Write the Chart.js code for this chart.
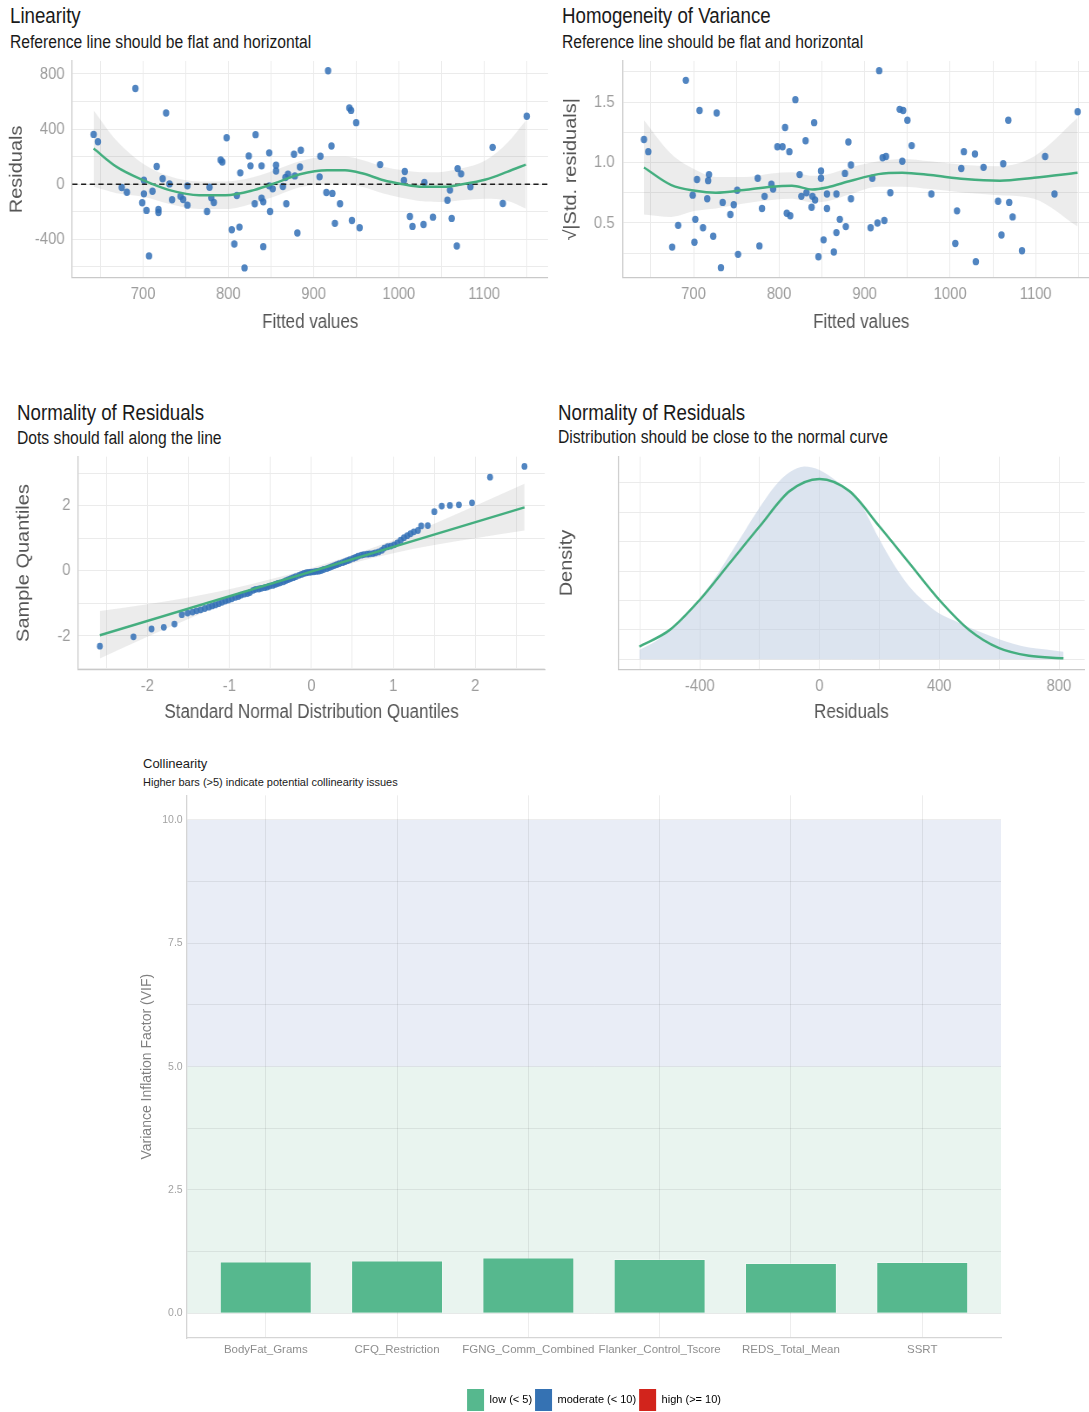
<!DOCTYPE html>
<html>
<head>
<meta charset="utf-8">
<script src="https://cdn.jsdelivr.net/npm/chart.js@4.4.1/dist/chart.umd.min.js"></script>
<style>
    body { margin: 0; width: 1089px; height: 1412px; overflow: hidden; background: #fff; position: relative; }
    canvas { position: absolute; }
    canvas.squeeze { transform: scaleX(0.87); transform-origin: 0 0; }
    .txt { position: absolute; white-space: nowrap; color: #1a1a1a; font-family: "Liberation Sans", Arial, sans-serif; }
    .sq { transform: scaleX(0.87); transform-origin: 0 0; }
</style>
</head>
<body>
<div class="txt sq" style="left:10px; top:5.8px; font-size:21.5px; line-height:21.5px;">Linearity</div>
<div class="txt sq" style="left:10px; top:32.5px; font-size:18px; line-height:18px;">Reference line should be flat and horizontal</div>
<div class="txt sq" style="left:562px; top:5.8px; font-size:21.5px; line-height:21.5px;">Homogeneity of Variance</div>
<div class="txt sq" style="left:562px; top:32.8px; font-size:18px; line-height:18px;">Reference line should be flat and horizontal</div>
<div class="txt sq" style="left:17px; top:402.8px; font-size:21.5px; line-height:21.5px;">Normality of Residuals</div>
<div class="txt sq" style="left:17px; top:428.8px; font-size:18px; line-height:18px;">Dots should fall along the line</div>
<div class="txt sq" style="left:558px; top:402.8px; font-size:21.5px; line-height:21.5px;">Normality of Residuals</div>
<div class="txt sq" style="left:558px; top:427.8px; font-size:18px; line-height:18px;">Distribution should be close to the normal curve</div>
<div class="txt" style="left:143px; top:757px; font-size:13px; line-height:13px;">Collinearity</div>
<div class="txt" style="left:143px; top:776.5px; font-size:11px; line-height:11px;">Higher bars (&gt;5) indicate potential collinearity issues</div>

<canvas id="linearity" class="squeeze" width="632" height="290" style="left:0; top:55px;"></canvas>
<canvas id="homogeneity" class="squeeze" width="644" height="290" style="left:550px; top:55px;"></canvas>
<canvas id="qq" class="squeeze" width="632" height="290" style="left:0; top:450px;"></canvas>
<canvas id="density" class="squeeze" width="644" height="290" style="left:550px; top:450px;"></canvas>
<canvas id="collinearity" width="912" height="631" style="left:139px; top:790px;"></canvas>

<script>
// Linearity: fitted values vs residuals
const linFitted = [642, 647, 691, 727, 675, 681, 701, 701, 699, 704, 711, 716, 718, 718, 707, 723, 731, 734, 744, 747, 752, 752, 775, 778, 780, 783, 798, 791, 793, 810, 804, 807, 813, 814, 819, 824, 826, 831, 832, 839, 839, 841, 841, 848, 849, 848, 852, 856, 856, 864, 868, 867, 870, 877, 878, 885, 884, 881, 908, 907, 917, 921, 915, 922, 931, 925, 942, 944, 950, 945, 954, 978, 1007, 1006, 1013, 1016, 1029, 1030, 1040, 1057, 1060, 1062, 1068, 1069, 1073, 1084, 1110, 1122, 1150];
const linResiduals = [361, 308, 694, 516, -24, -58, 29, -70, -135, -190, -51, 128, -183, -205, -520, 39, 2, -113, -87, -111, -12, -152, -198, -22, -99, -133, 337, 176, 161, -82, -330, -434, -311, 82, -607, 205, 133, -142, 359, 133, -101, -128, -453, -12, -198, 227, -34, 137, 96, -17, -142, 48, 72, 217, 60, 246, 125, -354, 202, 53, 822, 277, -60, -67, -142, -284, 552, 535, 446, -263, -316, 142, 92, 27, -234, -306, -292, 12, -239, -116, -43, -248, -448, 113, 75, -19, 267, -140, 492];
const linSmoothX = [642, 669, 700, 731, 766, 797, 830, 859, 884, 916, 937, 958, 982, 1003, 1028, 1053, 1073, 1102, 1127, 1149];
const linSmoothY = [258, 125, 29, -43, -80, -80, -43, 17, 72, 101, 101, 77, 29, 2, -19, -19, -2, 34, 89, 142];
const linBandHigh = [535, 315, 149, 57, 20, 20, 52, 112, 167, 198, 198, 174, 126, 102, 86, 91, 113, 174, 299, 462];
const linBandLow = [-19, -65, -91, -143, -180, -180, -138, -78, -23, 4, 4, -20, -68, -98, -124, -129, -117, -106, -121, -178];

// Homogeneity of variance: fitted values vs sqrt(|std. residuals|)
const hvFitted = [642, 647, 691, 675, 682, 699, 702, 701, 704, 707, 711, 716, 718, 717, 723, 727, 732, 734, 743, 747, 751, 752, 775, 777, 780, 783, 791, 793, 798, 804, 807, 809, 813, 812, 819, 824, 826, 831, 832, 838, 839, 842, 841, 846, 849, 849, 852, 856, 856, 864, 867, 867, 871, 877, 878, 881, 884, 884, 907, 909, 915, 917, 923, 921, 925, 930, 941, 945, 944, 950, 955, 978, 1006, 1008, 1013, 1016, 1029, 1030, 1039, 1056, 1060, 1062, 1068, 1069, 1073, 1084, 1111, 1122, 1149];
const hvSqrtResid = [1.19, 1.09, 1.68, 0.30, 0.48, 0.73, 0.53, 0.34, 0.86, 1.43, 0.46, 0.70, 0.90, 0.85, 0.39, 1.41, 0.13, 0.67, 0.57, 0.65, 0.77, 0.24, 0.87, 0.31, 0.62, 0.72, 0.82, 0.78, 1.13, 1.13, 1.29, 0.58, 0.56, 1.09, 1.52, 0.90, 0.72, 1.18, 0.75, 0.63, 0.72, 0.69, 1.33, 0.22, 0.93, 0.87, 0.36, 0.74, 0.62, 0.26, 0.42, 0.74, 0.53, 0.91, 0.47, 1.17, 0.98, 0.70, 0.46, 0.87, 0.50, 1.76, 0.52, 1.04, 1.05, 0.75, 1.44, 1.43, 1.01, 1.35, 1.14, 0.74, 0.33, 0.60, 0.95, 1.09, 1.07, 0.18, 0.96, 0.68, 0.40, 0.99, 1.35, 0.67, 0.55, 0.27, 1.05, 0.74, 1.42];
const hvSmoothX = [642, 674, 702, 726, 759, 791, 815, 839, 856, 884, 916, 944, 977, 1017, 1058, 1098, 1149];
const hvSmoothY = [0.959, 0.813, 0.766, 0.750, 0.772, 0.800, 0.808, 0.777, 0.794, 0.849, 0.904, 0.915, 0.896, 0.863, 0.849, 0.874, 0.915];
const hvBandHigh = [1.35, 1.07, 0.94, 0.88, 0.88, 0.91, 0.92, 0.89, 0.90, 0.96, 1.01, 1.03, 1.01, 0.98, 0.97, 1.05, 1.37];
const hvBandLow = [0.57, 0.55, 0.60, 0.62, 0.66, 0.69, 0.70, 0.67, 0.68, 0.74, 0.80, 0.80, 0.78, 0.75, 0.73, 0.70, 0.47];

// Normality: QQ plot
const qqTheoretical = [-2.58, -2.17, -1.95, -1.80, -1.67, -1.58, -1.51, -1.45, -1.40, -1.35, -1.30, -1.25, -1.21, -1.17, -1.13, -1.09, -1.05, -1.01, -0.97, -0.93, -0.89, -0.86, -0.82, -0.78, -0.75, -0.71, -0.68, -0.64, -0.61, -0.57, -0.54, -0.51, -0.47, -0.44, -0.41, -0.38, -0.34, -0.31, -0.28, -0.25, -0.22, -0.19, -0.15, -0.12, -0.09, -0.06, -0.03, 0.00, 0.03, 0.06, 0.09, 0.12, 0.15, 0.19, 0.22, 0.25, 0.28, 0.31, 0.34, 0.38, 0.41, 0.44, 0.47, 0.51, 0.54, 0.57, 0.61, 0.64, 0.68, 0.71, 0.75, 0.78, 0.82, 0.86, 0.89, 0.93, 0.97, 1.01, 1.05, 1.09, 1.13, 1.17, 1.21, 1.25, 1.30, 1.34, 1.42, 1.50, 1.59, 1.69, 1.80, 1.96, 2.18, 2.60];
const qqSample = [-2.32, -2.03, -1.79, -1.74, -1.64, -1.35, -1.30, -1.27, -1.23, -1.20, -1.16, -1.12, -1.08, -1.05, -1.01, -0.97, -0.93, -0.90, -0.86, -0.82, -0.79, -0.75, -0.72, -0.70, -0.67, -0.60, -0.57, -0.56, -0.54, -0.52, -0.50, -0.47, -0.45, -0.42, -0.39, -0.37, -0.34, -0.30, -0.27, -0.24, -0.21, -0.18, -0.14, -0.11, -0.08, -0.06, -0.05, -0.04, -0.03, -0.02, -0.01, 0.01, 0.04, 0.07, 0.10, 0.13, 0.16, 0.19, 0.22, 0.25, 0.28, 0.31, 0.34, 0.38, 0.41, 0.45, 0.48, 0.50, 0.51, 0.52, 0.53, 0.55, 0.58, 0.63, 0.70, 0.74, 0.76, 0.80, 0.86, 0.94, 1.02, 1.08, 1.14, 1.20, 1.24, 1.38, 1.39, 1.82, 1.99, 2.01, 2.03, 2.09, 2.88, 3.21];
const qqLineX = [-2.58, 2.60];
const qqLineY = [-1.98, 1.95];
const qqBandX = [-2.58, -2.0, -1.5, -1.0, 0, 1.0, 1.5, 2.0, 2.60];
const qqBandHigh = [-1.24, -1.03, -0.82, -0.57, 0.085, 0.94, 1.45, 2.00, 2.68];
const qqBandLow = [-2.70, -2.03, -1.48, -0.97, -0.115, 0.54, 0.79, 1.00, 1.24];

// Normality: density of residuals vs normal curve
const densityX = [-602, -550, -500, -450, -400, -350, -300, -250, -200, -150, -100, -50, 0, 50, 100, 136, 150, 200, 250, 300, 350, 400, 450, 500, 550, 600, 650, 700, 750, 815];
const densityY = [0.00008, 0.00015, 0.00025, 0.00038, 0.00052, 0.00069, 0.00089, 0.00109, 0.00129, 0.00147, 0.00159, 0.00164, 0.00161, 0.00153, 0.00143, 0.00133, 0.00127, 0.00102, 0.00080, 0.00062, 0.00049, 0.00039, 0.00033, 0.00027, 0.00022, 0.00017, 0.00013, 0.00010, 0.000085, 0.000065];
const normalX = [-602, -500, -400, -300, -200, -100, 0, 100, 200, 300, 400, 500, 600, 700, 815];
const normalY = [0.000108, 0.00025, 0.000506, 0.000818, 0.00113, 0.00143, 0.001534, 0.00143, 0.00113, 0.000818, 0.000506, 0.00025, 0.000095, 0.00003, 0.0000085];

// Collinearity
const vifTerms = ['BodyFat_Grams', 'CFQ_Restriction', 'FGNG_Comm_Combined', 'Flanker_Control_Tscore', 'REDS_Total_Mean', 'SSRT'];
const vifValues = [1.05, 1.07, 1.13, 1.10, 1.02, 1.04];
const vifLevels = ['low (< 5)', 'moderate (< 10)', 'high (>= 10)'];

const REGULAR = '"Liberation Sans", Arial, sans-serif';
const GRID = '#ebebeb';
const AXIS_LINE = '#c9c9c9';
const TICK_COLOR = '#9c9c9c';
const TITLE_COLOR = '#555555';
const POINT_BLUE = 'rgba(50,112,182,0.85)';
const SMOOTH_GREEN = '#44ae7f';
const BAND_GRAY = 'rgba(150,150,150,0.18)';
const VIF_COLORS = ['#56b88e', '#3572b3', '#d2241c'];

Chart.defaults.font.family = REGULAR;

function xy(xs, ys) {
    return xs.map((x, i) => ({ x: x, y: ys[i] }));
}

function every(step, digits) {
    return function (value) {
        const r = value / step;
        return Math.abs(r - Math.round(r)) < 1e-6 ? value.toFixed(digits) : '';
    };
}

// ticks at every multiple of step inside [min, max]
function stepTicks(min, max, step) {
    return function (scale) {
        const ticks = [];
        for (let k = Math.ceil(min / step - 1e-9); k * step <= max + 1e-9; k++) {
            ticks.push({ value: Math.round(k * step * 1e6) / 1e6 });
        }
        scale.ticks = ticks;
    };
}

function linearAxis(cfg) {
    const horizontal = cfg.position === 'bottom';
    return {
        type: 'linear',
        position: cfg.position,
        min: cfg.min,
        max: cfg.max,
        afterBuildTicks: stepTicks(cfg.min, cfg.max, cfg.step),
        afterFit: function (scale) {
            if (horizontal) scale.height = cfg.size; else scale.width = cfg.size;
            scale.paddingTop = 0; scale.paddingBottom = 0; scale.paddingLeft = 0; scale.paddingRight = 0;
        },
        grid: { color: GRID, lineWidth: 1, drawTicks: false },
        border: { display: true, color: AXIS_LINE, width: 1.3 },
        ticks: {
            autoSkip: false,
            maxRotation: 0,
            padding: cfg.tickPad,
            color: TICK_COLOR,
            font: { family: REGULAR, size: 17 },
            callback: cfg.label
        },
        title: {
            display: true,
            text: cfg.title,
            color: TITLE_COLOR,
            font: { family: REGULAR, size: horizontal ? 19.5 : 20 },
            padding: horizontal ? { top: 0, bottom: cfg.titlePad } : { top: cfg.titlePad, bottom: 0 }
        }
    };
}

function baseOptions(padding, xAxis, yAxis) {
    return {
        responsive: false,
        animation: false,
        devicePixelRatio: 1,
        layout: { padding: padding, autoPadding: false },
        plugins: { legend: { display: false }, tooltip: { enabled: false } },
        scales: { x: xAxis, y: yAxis }
    };
}

function smoothLine(data, color, width, order) {
    return { type: 'line', data: data, borderColor: color, borderWidth: width, pointRadius: 0,
        tension: 0.4, cubicInterpolationMode: 'monotone', fill: false, order: order };
}

function bandLines(xs, high, low, order) {
    return [
        { type: 'line', data: xy(xs, high), borderWidth: 0, borderColor: 'transparent', pointRadius: 0,
            tension: 0.4, cubicInterpolationMode: 'monotone', fill: '+1', backgroundColor: BAND_GRAY, order: order },
        { type: 'line', data: xy(xs, low), borderWidth: 0, borderColor: 'transparent', pointRadius: 0,
            tension: 0.4, cubicInterpolationMode: 'monotone', fill: false, order: order + 1 }
    ];
}

// Linearity
const LIN_X = [617, 1175];
new Chart(document.getElementById('linearity'), {
    type: 'scatter',
    data: {
        datasets: [
            smoothLine(xy(linSmoothX, linSmoothY), SMOOTH_GREEN, 2.5, 0),
            { type: 'line', data: xy(LIN_X, [0, 0]), borderColor: '#1e1e1e', borderWidth: 1.5, borderDash: [6, 4], pointRadius: 0, order: 1 },
            { data: xy(linFitted, linResiduals), backgroundColor: POINT_BLUE, borderWidth: 0, pointRadius: 3.7, order: 2 }
        ].concat(bandLines(linSmoothX, linBandHigh, linBandLow, 3))
    },
    options: baseOptions({ top: 6, right: 2.1, left: 0, bottom: 0 },
        linearAxis({ position: 'bottom', min: LIN_X[0], max: LIN_X[1], step: 50, label: every(100, 0), size: 67.3, tickPad: 6, title: 'Fitted values', titlePad: 10.7 }),
        linearAxis({ position: 'left', min: -678, max: 893, step: 200, label: every(400, 0), size: 83.1, tickPad: 9, title: 'Residuals', titlePad: 7.5 }))
});

// Homogeneity of variance
new Chart(document.getElementById('homogeneity'), {
    type: 'scatter',
    data: {
        datasets: [
            smoothLine(xy(hvSmoothX, hvSmoothY), SMOOTH_GREEN, 2.5, 0),
            { data: xy(hvFitted, hvSqrtResid), backgroundColor: POINT_BLUE, borderWidth: 0, pointRadius: 3.7, order: 2 }
        ].concat(bandLines(hvSmoothX, hvBandHigh, hvBandLow, 3))
    },
    options: baseOptions({ top: 6, right: 12, left: 0, bottom: 0 },
        linearAxis({ position: 'bottom', min: 617, max: 1175, step: 50, label: every(100, 0), size: 67.3, tickPad: 6, title: 'Fitted values', titlePad: 10.7 }),
        linearAxis({ position: 'left', min: 0.047, max: 1.84, step: 0.25, label: every(0.5, 1), size: 83.4, tickPad: 9.2, title: '\u221A|Std. residuals|', titlePad: 12.8 }))
});

// QQ plot
new Chart(document.getElementById('qq'), {
    type: 'scatter',
    data: {
        datasets: [
            { type: 'line', data: xy(qqLineX, qqLineY), borderColor: SMOOTH_GREEN, borderWidth: 2.5, pointRadius: 0, fill: false, order: 0 },
            { data: xy(qqTheoretical, qqSample), backgroundColor: POINT_BLUE, borderWidth: 0, pointRadius: 3.4, order: 2 }
        ].concat(bandLines(qqBandX, qqBandHigh, qqBandLow, 3))
    },
    options: baseOptions({ top: 6.7, right: 5.8, left: 0, bottom: 0 },
        linearAxis({ position: 'bottom', min: -2.843, max: 2.848, step: 0.5, label: every(1, 0), size: 70.7, tickPad: 7.2, title: 'Standard Normal Distribution Quantiles', titlePad: 15.7 }),
        linearAxis({ position: 'left', min: -3.03, max: 3.51, step: 1, label: every(2, 0), size: 90, tickPad: 9, title: 'Sample Quantiles', titlePad: 15.4 }))
});

// Density
new Chart(document.getElementById('density'), {
    type: 'scatter',
    data: {
        datasets: [
            smoothLine(xy(normalX, normalY), SMOOTH_GREEN, 2.5, 0),
            { type: 'line', data: xy(densityX, densityY), borderWidth: 0, borderColor: 'transparent', pointRadius: 0,
                tension: 0.4, cubicInterpolationMode: 'monotone', fill: 'origin', backgroundColor: 'rgba(186,202,224,0.5)', order: 1 }
        ]
    },
    options: baseOptions({ top: 6.7, right: 29.4, left: 0, bottom: 0 },
        linearAxis({ position: 'bottom', min: -673, max: 886, step: 200, label: every(400, 0), size: 70.7, tickPad: 7.2, title: 'Residuals', titlePad: 15.7 }),
        linearAxis({ position: 'left', min: -0.000085, max: 0.001723, step: 0.00025, label: () => '', size: 78.2, tickPad: 0, title: 'Density', titlePad: 7.9 }))
});

// Collinearity
const vifZones = {
    id: 'vifZones',
    beforeDraw(chart) {
        const { ctx, chartArea, scales: { y } } = chart;
        const y0 = y.getPixelForValue(0);
        const y5 = y.getPixelForValue(5);
        const y10 = y.getPixelForValue(10);
        ctx.save();
        ctx.fillStyle = '#e9f4ef';
        ctx.fillRect(chartArea.left, y5, chartArea.width, y0 - y5);
        ctx.fillStyle = '#e9edf6';
        ctx.fillRect(chartArea.left, y10, chartArea.width, y5 - y10);
        ctx.restore();
    }
};

new Chart(document.getElementById('collinearity'), {
    type: 'bar',
    data: {
        datasets: [{
            data: vifValues.map((v, i) => ({ x: i + 1, y: v })),
            backgroundColor: vifValues.map(v => v < 5 ? VIF_COLORS[0] : v < 10 ? VIF_COLORS[1] : VIF_COLORS[2]),
            borderColor: 'rgba(255,255,255,0.35)',
            borderWidth: 1,
            barPercentage: 0.7,
            categoryPercentage: 1
        }]
    },
    options: {
        responsive: false,
        animation: false,
        devicePixelRatio: 1,
        layout: { padding: { top: 5.3, right: 50, left: 0, bottom: 0 }, autoPadding: false },
        plugins: {
            tooltip: { enabled: false },
            legend: {
                position: 'bottom',
                fullSize: false,
                onClick: null,
                labels: {
                    boxWidth: 17,
                    boxHeight: 22,
                    padding: 3,
                    color: '#555',
                    font: { size: 11, family: REGULAR },
                    generateLabels: () => vifLevels.map((name, i) => ({
                        text: name, fillStyle: VIF_COLORS[i], strokeStyle: VIF_COLORS[i], lineWidth: 0, hidden: false, datasetIndex: 0
                    }))
                }
            }
        },
        scales: {
            x: {
                type: 'linear',
                min: 0.4,
                max: 6.6,
                offset: false,
                afterBuildTicks: stepTicks(0.4, 6.6, 1),
                afterFit: function (scale) {
                    scale.height = 48;
                    scale.paddingLeft = 0; scale.paddingRight = 0;
                },
                grid: { color: 'rgba(0,0,0,0.07)', drawTicks: false, offset: false },
                border: { display: true, color: '#d5d5d5', width: 1.3 },
                ticks: {
                    autoSkip: false, maxRotation: 0, padding: 5,
                    color: '#8e8e8e', font: { size: 11.5, family: REGULAR },
                    callback: v => vifTerms[Math.round(v) - 1] || ''
                }
            },
            y: {
                min: -0.5,
                max: 10.5,
                afterBuildTicks: stepTicks(-0.5, 10.5, 1.25),
                afterFit: function (scale) {
                    scale.width = 48;
                    scale.paddingTop = 0; scale.paddingBottom = 0;
                },
                grid: { color: 'rgba(0,0,0,0.07)', drawTicks: false },
                border: { display: true, color: '#d5d5d5', width: 1.3 },
                ticks: {
                    padding: 4.3,
                    color: '#a3a3a3', font: { size: 10.5, family: REGULAR },
                    callback: every(2.5, 1)
                },
                title: {
                    display: true, text: 'Variance Inflation Factor (VIF)', color: '#808080',
                    font: { size: 14, family: REGULAR }, padding: { top: 0, bottom: 0 }
                }
            }
        }
    },
    plugins: [vifZones]
});
</script>
</body>
</html>
